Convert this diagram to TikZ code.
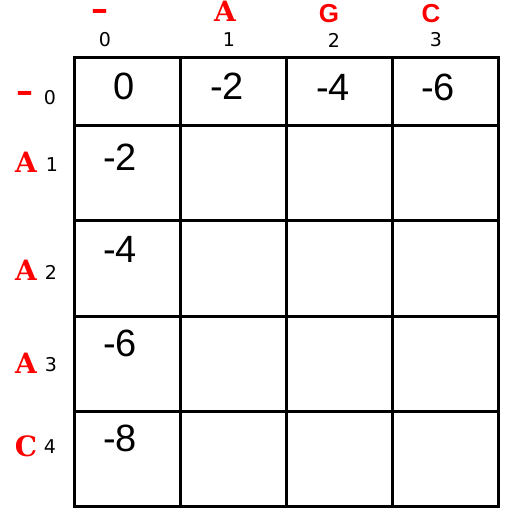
\documentclass[tikz,border=0pt]{standalone}
\usepackage{fontspec}
\setmainfont{Liberation Sans}
\newfontfamily\idxfont{DejaVu Sans}
\newfontfamily\seqfont{DejaVu Serif}
\usetikzlibrary{positioning}
\tikzstyle{every node}=[inner sep=0pt]
\tikzstyle{grid}=[line width=3pt]
\tikzstyle{score}=[font=\fontsize{38}{38}\selectfont]
\tikzstyle{seqchar}=[red,anchor=base,font=\seqfont\bfseries\fontsize{28}{28}\selectfont]
\tikzstyle{seqgap}=[red,anchor=base,font=\seqfont\bfseries\fontsize{34}{34}\selectfont]
\tikzstyle{seqsans}=[red,anchor=base,font=\bfseries\fontsize{26}{26}\selectfont]
\tikzstyle{index}=[font=\idxfont\fontsize{19}{19}\selectfont]

\begin{document}
\begin{tikzpicture}[x=1pt,y=-1pt]
  \useasboundingbox (0,0) rectangle (532,521);
  % the matrix
  \draw[grid] (74,58) rectangle (498,506);
  \foreach \x in {180,286,392} \draw[grid] (\x,58) -- (\x,506);
  \foreach \y in {126,221,316,411} \draw[grid] (74,\y) -- (498,\y);
  % top sequence
  \node[seqgap] (t0) at (100,21) {–};
  \node[seqchar] (t1) at (225,22) {A};
  \node[seqsans] (t2) at (329,23) {G};
  \node[seqsans] (t3) at (431,23) {C};
  \node[index] (ti0) at (105,40) {0};
  \node[index] (ti1) at (229,40) {1};
  \node[index] (ti2) at (334,40) {2};
  \node[index] (ti3) at (436,40) {3};
  % left sequence
  \node[seqgap] (l0) at (25,103) {–};
  \node[seqchar] (l1) at (26,173) {A};
  \node[seqchar] (l2) at (26,280) {A};
  \node[seqchar] (l3) at (26,373) {A};
  \node[seqchar] (l4) at (26,456) {C};
  \node[index] (li0) at (50,98) {0};
  \node[index] (li1) at (52,165) {1};
  \node[index] (li2) at (51,272) {2};
  \node[index] (li3) at (51,365) {3};
  \node[index] (li4) at (50,447) {4};
  % scores
  \node[score] (s00) at (124,86) {0};
  \node[score] (s01) at (227,86) {-2};
  \node[score] (s02) at (333,87) {-4};
  \node[score] (s03) at (438,87) {-6};
  \node[score] (s10) at (120,157) {-2};
  \node[score] (s20) at (120,249) {-4};
  \node[score] (s30) at (120,343) {-6};
  \node[score] (s40) at (120,438) {-8};
\end{tikzpicture}
\end{document}
